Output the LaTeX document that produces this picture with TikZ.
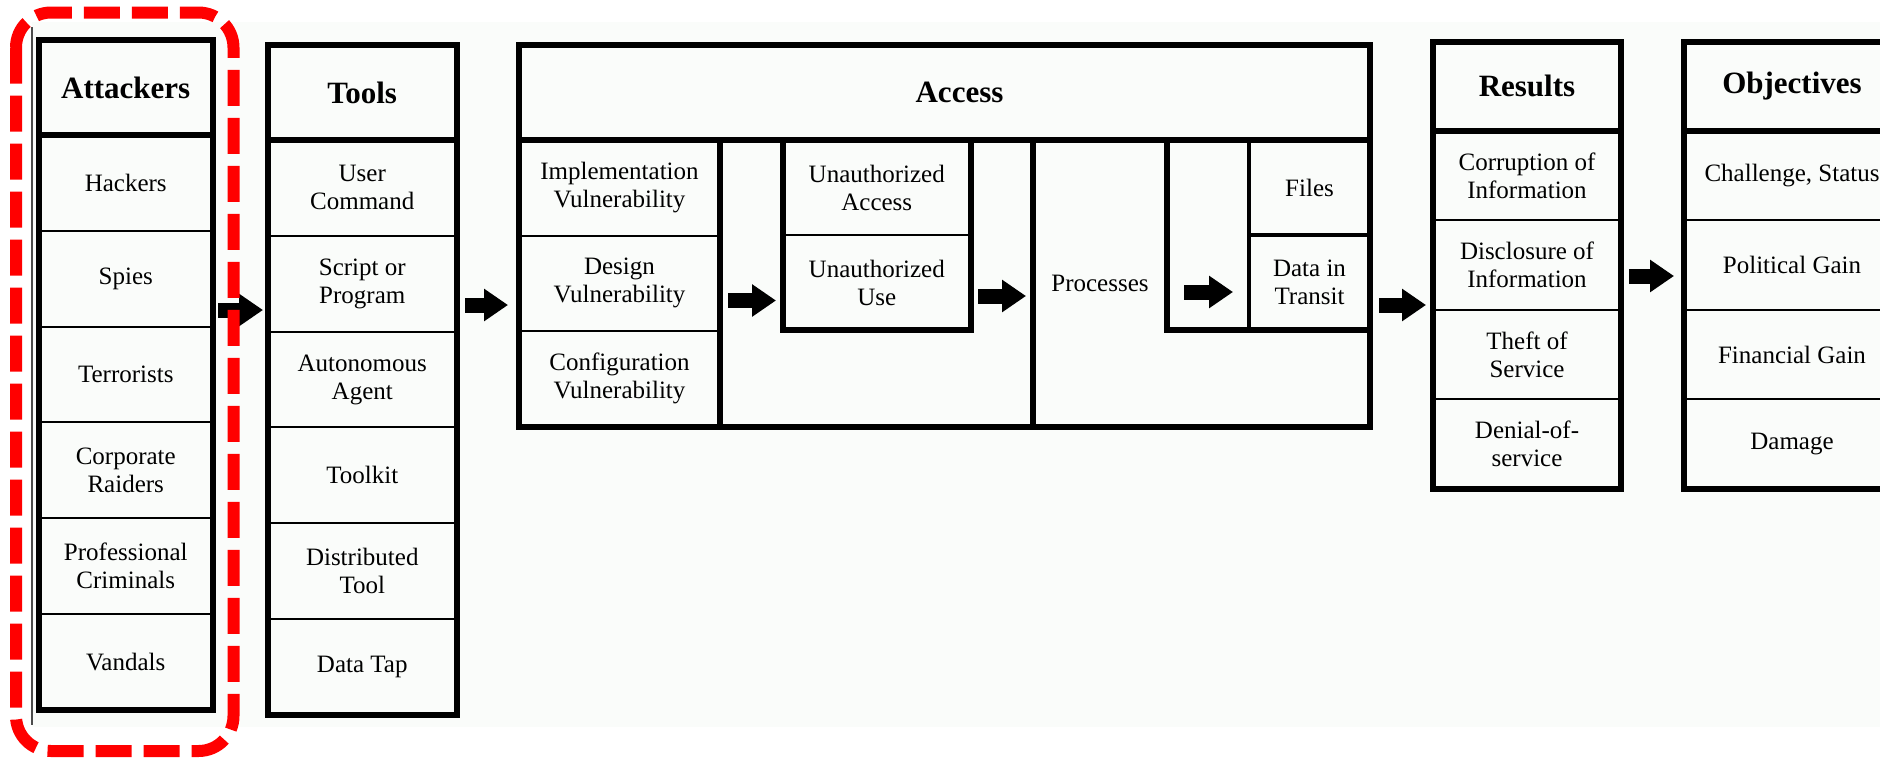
\documentclass[tikz,border=0pt]{standalone}
\usepackage{fontspec}
\setmainfont{Liberation Serif}
\usetikzlibrary{arrows.meta, positioning}
\definecolor{paper}{RGB}{250,252,250}
\definecolor{hired}{RGB}{255,0,0}

\begin{document}
\begin{tikzpicture}[
    x=0.5pt, y=-0.5pt,
    cell/.style={rectangle, draw=black, line width=1pt, inner sep=0pt, outer sep=0pt,
                 align=center, font=\fontsize{12.5}{14}\selectfont},
    hdr/.style={cell, font=\fontsize{15.5}{18}\selectfont\bfseries},
    thickbox/.style={draw=black, line width=3pt, line cap=rect},
    midline/.style={draw=black, line width=2pt},
    blk/.style={-{Triangle[length=12pt, width=15.5pt]}, line width=7.5pt},
    hilite/.style={draw=hired, line width=6pt, dash pattern=on 18pt off 6pt, rounded corners=17.5pt},
]
\useasboundingbox (0,0) rectangle (1880,757);
\clip (0,0) rectangle (1880,757);
\fill[paper] (32,22) rectangle (1880,727);
\draw[gray!60!black, line width=0.6pt] (32,27) -- (32,725);

% Attackers
\node[hdr, minimum width=87.25pt, minimum height=47.5pt] (att) at (125.75,87.5) {Attackers};
\node[cell, minimum width=87.25pt, minimum height=47.9pt, below=0pt of att] (hack) {Hackers};
\node[cell, minimum width=87.25pt, minimum height=47.9pt, below=0pt of hack] (spies) {Spies};
\node[cell, minimum width=87.25pt, minimum height=47.9pt, below=0pt of spies] (terr) {Terrorists};
\node[cell, minimum width=87.25pt, minimum height=47.9pt, below=0pt of terr] (corp) {Corporate\\Raiders};
\node[cell, minimum width=87.25pt, minimum height=47.9pt, below=0pt of corp] (crim) {Professional\\Criminals};
\node[cell, minimum width=87.25pt, minimum height=47.9pt, below=0pt of crim] (vand) {Vandals};
\draw[thickbox] (att.north west) rectangle (vand.south east);
\draw[thickbox] (att.south west) -- (att.south east);

% Tools
\node[hdr, minimum width=94.25pt, minimum height=47.5pt] (tools) at (362.25,92.5) {Tools};
\node[cell, minimum width=94.25pt, minimum height=47.9pt, below=0pt of tools] (user) {User\\Command};
\node[cell, minimum width=94.25pt, minimum height=47.9pt, below=0pt of user] (script) {Script or\\Program};
\node[cell, minimum width=94.25pt, minimum height=47.9pt, below=0pt of script] (agent) {Autonomous\\Agent};
\node[cell, minimum width=94.25pt, minimum height=47.9pt, below=0pt of agent] (kit) {Toolkit};
\node[cell, minimum width=94.25pt, minimum height=47.9pt, below=0pt of kit] (dist) {Distributed\\Tool};
\node[cell, minimum width=94.25pt, minimum height=47.9pt, below=0pt of dist] (tap) {Data Tap};
\draw[thickbox] (tools.north west) rectangle (tap.south east);
\draw[thickbox] (tools.south west) -- (tools.south east);

% Access
\node[hdr, minimum width=425.5pt, minimum height=47.75pt] (acc) at (944.5,92.25) {\hspace*{15pt}Access};
\node[cell, minimum width=100.5pt, minimum height=47.75pt, anchor=north west] (impl) at (acc.south west) {Implementation\\Vulnerability};
\node[cell, minimum width=100.5pt, minimum height=47.75pt, below=0pt of impl] (design) {Design\\Vulnerability};
\node[cell, minimum width=100.5pt, minimum height=47.75pt, below=0pt of design] (config) {Configuration\\Vulnerability};
\node[cell, minimum width=93.75pt, minimum height=47.5pt, anchor=north west] (uacc) at (783,140) {Unauthorized\\Access};
\node[cell, minimum width=93.75pt, minimum height=47.5pt, below=0pt of uacc] (uuse) {Unauthorized\\Use};
\node[cell, draw=none, minimum width=67pt, minimum height=143.25pt, anchor=north west] (proc) at (1033,140) {Processes};
\node[cell, draw=none, minimum width=60.5pt, minimum height=47.5pt, anchor=north west] (files) at (1249,140) {Files};
\node[cell, draw=none, minimum width=60.5pt, minimum height=47.5pt, below=0pt of files] (data) {Data in\\Transit};
\draw[midline] (files.north west) -- (data.south west);
\draw[midline] (files.south west) -- (files.south east);
\draw[thickbox] (impl.north west) rectangle (config.south east);
\draw[thickbox] (uacc.north west) rectangle (uuse.south east);
\draw[thickbox] (proc.north west) -- (proc.south west);
\draw[thickbox] (proc.north east) -- (proc.north east |- data.south) -- (acc.east |- data.south);
\draw[thickbox] (acc.north west) rectangle (acc.east |- config.south);
\draw[thickbox] (acc.south west) -- (acc.south east);

% Results
\node[hdr, minimum width=94pt, minimum height=44.75pt] (res) at (1527,86.25) {Results};
\node[cell, minimum width=94pt, minimum height=44.7pt, below=0pt of res] (corr) {Corruption of\\Information};
\node[cell, minimum width=94pt, minimum height=44.7pt, below=0pt of corr] (discl) {Disclosure of\\Information};
\node[cell, minimum width=94pt, minimum height=44.7pt, below=0pt of discl] (theft) {Theft of\\Service};
\node[cell, minimum width=94pt, minimum height=44.7pt, below=0pt of theft] (deny) {Denial-of-\\service};
\draw[thickbox] (res.north west) rectangle (deny.south east);
\draw[thickbox] (res.south west) -- (res.south east);

% Objectives
\node[hdr, minimum width=108pt, minimum height=44.75pt] (obj) at (1792,86.25) {Objectives};
\node[cell, minimum width=108pt, minimum height=44.7pt, below=0pt of obj] (chal) {Challenge, Status};
\node[cell, minimum width=108pt, minimum height=44.7pt, below=0pt of chal] (pol) {Political Gain};
\node[cell, minimum width=108pt, minimum height=44.7pt, below=0pt of pol] (fin) {Financial Gain};
\node[cell, minimum width=108pt, minimum height=44.7pt, below=0pt of fin] (dam) {Damage};
\draw[thickbox] (obj.north west) rectangle (dam.south east);
\draw[thickbox] (obj.south west) -- (obj.south east);

% block arrows
\draw[blk, shorten <=2.5pt, shorten >=2.5pt] (spies.east |- 0,310) -- (script.west |- 0,310);
\draw[blk, shorten <=4.25pt, shorten >=5.5pt] (script.east |- 0,305) -- (design.west |- 0,305);
\draw[blk, shorten <=4pt, shorten >=3.5pt] (design.east |- 0,300.5) -- (uuse.west |- 0,300.5);
\draw[blk, shorten <=3.75pt, shorten >=3.5pt] (uuse.east |- 0,296) -- (proc.west |- 0,296);
\draw[blk, shorten <=8.5pt, shorten >=8pt] (proc.east |- 0,292) -- (data.west |- 0,292);
\draw[blk, shorten <=4.5pt, shorten >=3.5pt] (acc.east |- 0,305) -- (discl.west |- 0,305);
\draw[blk, shorten <=4pt, shorten >=5pt] (discl.east |- 0,276) -- (pol.west |- 0,276);

% highlight round the attackers
\draw[hilite] (16,12.5) rectangle (233.5,751);

\end{tikzpicture}
\end{document}
